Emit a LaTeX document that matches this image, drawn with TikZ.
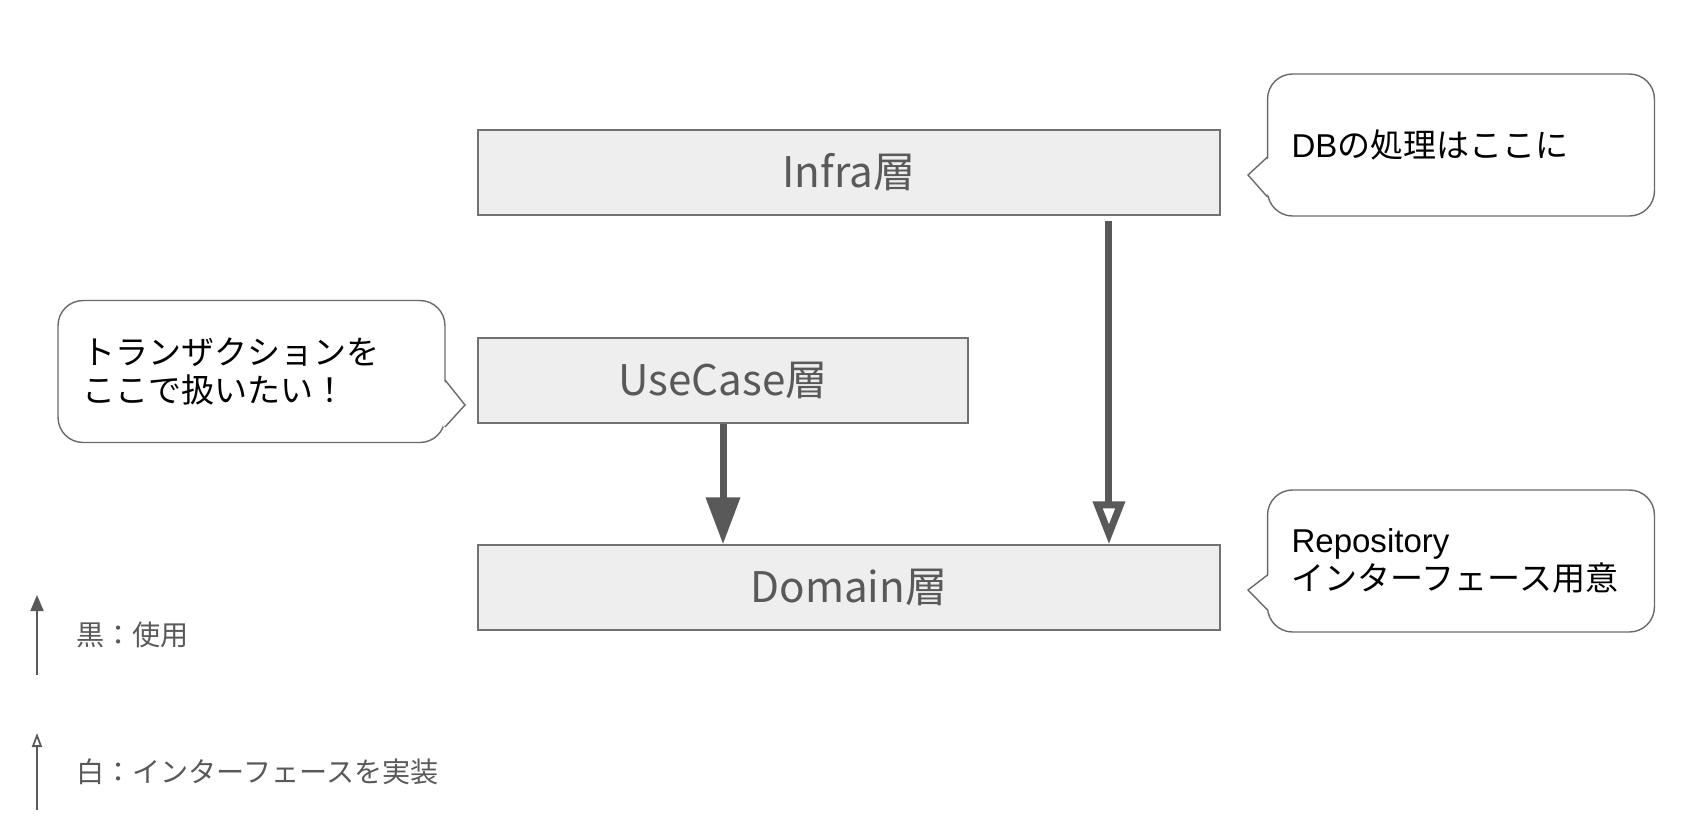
\documentclass[tikz,border=0pt]{standalone}
\usepackage{fontspec}
\setmainfont{Liberation Sans}
\newfontfamily\cjk{Noto Sans CJK JP}
\usetikzlibrary{arrows.meta}
\definecolor{boxgray}{HTML}{EEEEEE}
\definecolor{ink}{HTML}{595959}

\begin{document}
\begin{tikzpicture}[x=0.02cm,y=-0.02cm,
  layer/.style={draw=ink!85, fill=boxgray, line width=0.8pt, minimum height=1.7cm, text=ink, font=\cjk\fontsize{24}{28}\selectfont},
  bubble/.style={draw=ink!90, fill=white, line width=0.8pt, rounded corners=0.5cm, minimum height=2.84cm, text width=6.78cm, inner xsep=0.48cm, align=left, font=\fontsize{18.8}{21.5}\selectfont},
  uses/.style={draw=ink, line width=0.14cm, -{Triangle[length=0.94cm,width=0.66cm]}},
  impl/.style={draw=ink, line width=0.14cm, -{Triangle[length=0.86cm,width=0.62cm,fill=white]}},
  keyuse/.style={draw=ink, line width=1pt, -{Triangle[length=0.32cm,width=0.26cm]}},
  keyimpl/.style={draw=ink, line width=1pt, -{Triangle[length=0.28cm,width=0.2cm,fill=white]}},
  keytext/.style={anchor=west, text=ink, font=\cjk\fontsize{16}{19}\selectfont}]
\useasboundingbox (0,0) rectangle (1684,838);

\node[layer, minimum width=14.84cm] (infra) at (849,172.5) {Infra層};
\node[layer, minimum width=9.8cm] (usecase) at (723,380.5) {UseCase層};
\node[layer, minimum width=14.84cm] (domain) at (849,587.5) {Domain層};

\coordinate (infraout) at ([xshift=5.2cm,yshift=-0.1cm]infra.south);
\draw[uses] (usecase.south) -- (usecase.south |- domain.north);
\draw[impl] (infraout) -- (infraout |- domain.north);

\node[bubble] (dbnote) at (1461,145) {DB{\cjk の処理はここに}};
\fill[white] (1270,157) -- (1248,175) -- (1270,197) -- cycle;
\draw[ink!90, line width=0.8pt] (1267.5,157) -- (1248,175) -- (1267.5,197);

\node[bubble] (txnote) at (251.5,371.5) {\cjk トランザクションを\\ここで扱いたい！};
\fill[white] (443,380) -- (465,405) -- (443,427) -- cycle;
\draw[ink!90, line width=0.8pt] (445,380) -- (465,405) -- (445,427);

\node[bubble] (reponote) at (1461,561) {Repository\\{\cjk インターフェース用意}};
\fill[white] (1269,575) -- (1248,590) -- (1269,610) -- cycle;
\draw[ink!90, line width=0.8pt] (1267.5,575) -- (1248,590) -- (1267.5,610);

\coordinate (usefoot) at (37,675);
\coordinate (usehead) at (37,595);
\coordinate (implfoot) at (37,810);
\coordinate (implhead) at (37,733);
\draw[keyuse] (usefoot) -- (usehead);
\draw[keyimpl] (implfoot) -- (implhead);
\node[keytext] (usekey) at (70,635) {黒：使用};
\node[keytext] (implkey) at (70,772) {白：インターフェースを実装};

\end{tikzpicture}
\end{document}
